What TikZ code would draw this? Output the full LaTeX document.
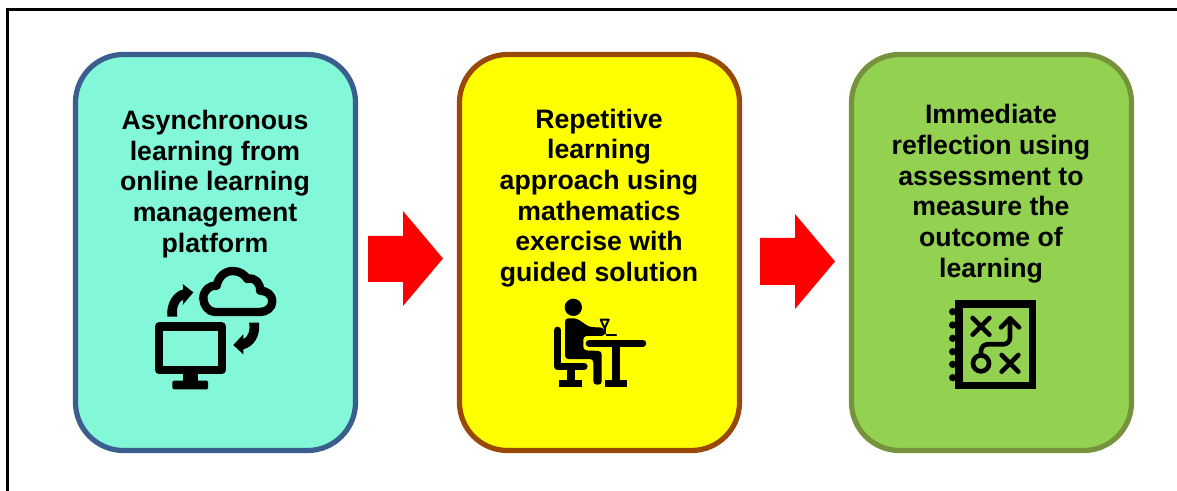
\documentclass[tikz,border=0pt]{standalone}
\usepackage{fontspec}
\setmainfont{Liberation Sans}
\definecolor{tealfill}{HTML}{82F8D8}
\definecolor{blueedge}{HTML}{3A5F8F}
\definecolor{yellowfill}{HTML}{FFFF00}
\definecolor{brownedge}{HTML}{984807}
\definecolor{greenfill}{HTML}{92D250}
\definecolor{greenedge}{HTML}{76923C}
\tikzset{
  panel/.style={draw, line width=3.9pt, rounded corners=36pt, minimum width=210pt, minimum height=297pt, inner sep=0pt},
  label/.style={font=\bfseries\fontsize{20}{23}\selectfont, align=center, inner sep=0pt},
  icon/.style={x=.25pt,y=-.25pt},
  blockarrow/.style={fill=red, draw=none},
  ink/.style={line width=#1*.25pt, black, line cap=round, line join=round},
}
\begin{document}
\begin{tikzpicture}[x=.75pt,y=-.75pt]
\useasboundingbox (0,0) rectangle (1177,491);
\fill[white] (0,0) rectangle (1177,491);
\begin{scope}
\clip (0,0) rectangle (1177,491);
\draw[line width=1.9pt] (7.5,500) -- (7.5,9.5) -- (1185,9.5);
\end{scope}
% panels
\node[panel, fill=tealfill, draw=blueedge] (p1) at (215.5,252.5) {};
\node[panel, fill=yellowfill, draw=brownedge] (p2) at (599.5,252.5) {};
\node[panel, fill=greenfill, draw=greenedge] (p3) at (991.5,252.5) {};
% block arrows
\fill[blockarrow] (368,236) -- (403,236) -- (403,211) -- (443,258.5) -- (403,306) -- (403,282) -- (368,282) -- cycle;
\fill[blockarrow] (760,238) -- (795,238) -- (795,214) -- (835,261.5) -- (795,309) -- (795,285) -- (760,285) -- cycle;
% labels
\node[label] (t1) at (215,184) {Asynchronous\\learning from\\online learning\\management\\platform};
\node[label] (t2) at (599,198) {Repetitive\\learning\\approach using\\mathematics\\exercise with\\guided solution};
\node[label] (t3) at (991,193.5) {Immediate\\reflection using\\assessment to\\measure the\\outcome of\\learning};
% computer and cloud icon
\begin{scope}[shift={(130,255)},icon]
\draw[ink=25] (87,215) rectangle (275,345);
\fill (158,345) rectangle (203,380);
\fill[rounded corners=1pt] (127,377) rectangle (234,403);
\draw[ink=25] (255,171) .. controls (235,171) and (220,150) .. (220,130) .. controls (220,105) and (240,90) .. (260,92) .. controls (265,65) and (285,48) .. (308,48) .. controls (330,48) and (345,60) .. (352,72) .. controls (375,65) and (392,85) .. (390,107) .. controls (410,107) and (427,120) .. (427,138) .. controls (427,158) and (410,171) .. (390,171) -- cycle;
\fill (112,185) .. controls (108,145) and (130,110) .. (160,103) -- (158,87) -- (190,112) -- (158,150) -- (160,133) .. controls (145,140) and (138,160) .. (142,185) -- cycle;
\fill (387,203) .. controls (392,245) and (370,275) .. (340,283) -- (340,298) -- (310,270) -- (340,238) -- (340,253) .. controls (355,245) and (362,225) .. (357,203) -- cycle;
\end{scope}
% person at desk icon
\begin{scope}[shift={(530,285)},icon]
\fill (130,67) circle (26);
\fill[rounded corners=2.5pt] (105,100) -- (140,100) -- (178,126) -- (222,128) -- (225,153) -- (160,153) -- (160,196) -- (215,198) -- (215,299) -- (190,299) -- (190,222) -- (105,222) -- cycle;
\draw[ink=22] (83,136) -- (83,244) -- (162,244);
\fill (112,250) rectangle (135,290);
\fill (88,285) rectangle (155,307);
\draw[ink=22] (178,175) -- (338,175);
\fill (247,185) rectangle (270,290);
\fill (225,285) rectangle (290,307);
\draw[ink=6] (212,104) -- (236,104) -- (224,130) -- cycle;
\draw[ink=6] (224,130) -- (224,146);
\draw[ink=6] (230,150) -- (258,150);
\end{scope}
% playbook icon
\begin{scope}[shift={(930,285)},icon]
\foreach \yy in {80,120,160,200,238,278} \fill (68,\yy) circle (11);
\draw[line width=5.6pt, line join=miter] (86.5,56.5) rectangle (307,302);
\draw[ink=14] (128,99) -- (178,149) (178,99) -- (128,149);
\draw[ink=14] (215,210) -- (265,260) (265,210) -- (215,260);
\draw[ink=14] (153,235) circle (24);
\draw[ink=14, rounded corners=5pt] (153,211) -- (153,178) -- (240,178) -- (240,100);
\draw[ink=14] (213,127) -- (240,100) -- (267,127);
\end{scope}
\end{tikzpicture}
\end{document}
